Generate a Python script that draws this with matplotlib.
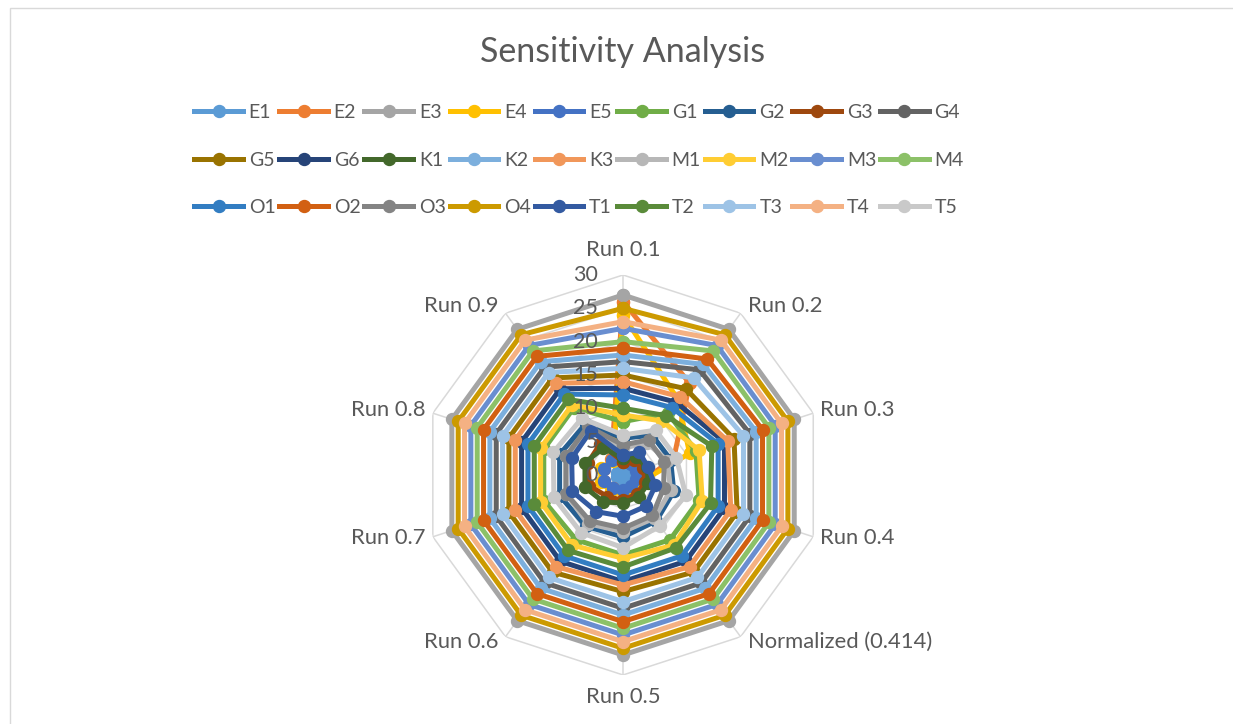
import numpy as np
import matplotlib
matplotlib.use('Agg')
import matplotlib.pyplot as plt
from matplotlib.patches import Rectangle

plt.rcParams['font.family'] = ['Lato', 'DejaVu Sans']

axis_labels = ['Run 0.1', 'Run 0.2', 'Run 0.3', 'Run 0.4', 'Normalized (0.414)',
               'Run 0.5', 'Run 0.6', 'Run 0.7', 'Run 0.8', 'Run 0.9']
r_ticks = [0, 5, 10, 15, 20, 25, 30]

# values per axis, same order as axis_labels
E1 = [1, 0.8, 0.8, 1, 1, 1, 1, 1, 1, 1]
E2 = [26, 17, 8, 3, 2.5, 2.5, 2.5, 3, 3, 3]
E3 = [27, 27, 27, 27, 27, 27, 27, 27, 27, 27]
E4 = [24, 14, 10.5, 3, 2.5, 2.5, 3, 3.5, 3.5, 2.5]
E5 = [2.5, 2, 2, 2, 2, 2.2, 2.5, 3, 3, 2.8]
G1 = [8, 11.5, 11.5, 12, 12, 12, 12, 12.5, 12.5, 12.5]
G2 = [5.5, 7.4, 7.5, 8, 8.5, 9.3, 9.5, 10, 10, 9.5]
G3 = [2, 2.8, 3.2, 3.5, 3.5, 3.8, 4, 5.3, 5.6, 5.8]
G4 = [17, 19.5, 20, 20, 20, 20, 20, 20, 20, 20]
G5 = [15, 16, 17.5, 18, 18, 17.5, 18, 18, 18, 18]
G6 = [13, 13.5, 16, 16, 16, 16, 16, 16, 16, 16]
K1 = [2.5, 3.3, 3.8, 4, 4, 4.2, 5, 6, 6, 5]
K2 = [18, 20.5, 21, 21, 21, 21, 21, 21, 21, 21]
K3 = [14, 14.5, 16.5, 17, 17, 16.5, 17, 17, 17, 17]
M1 = [4, 6, 7, 7.5, 8, 8.5, 9, 9, 9, 8.5]
M2 = [9, 10, 12, 12.5, 13, 12.5, 13, 13, 13, 13]
M3 = [22, 24, 24, 24, 24, 24, 24, 24, 24, 24]
M4 = [20, 23, 23, 23, 23, 23, 23, 23, 23, 23]
O1 = [12, 12.5, 15, 15, 15, 15, 15, 15, 15, 15]
O2 = [19, 21.5, 22, 22, 22, 22, 22, 22, 22, 22]
O3 = [4.5, 6.5, 6.5, 6.4, 7.5, 8, 8.5, 9, 9, 9]
O4 = [25, 26, 26, 26, 26, 26, 26, 26, 26, 26]
T1 = [3, 4.2, 3.9, 5.1, 5.8, 6.2, 6.8, 8, 8.1, 8.2]
T2 = [10, 11, 14, 13.8, 13.5, 13.8, 14, 14, 14, 14]
T3 = [16, 18, 19, 19, 19, 19, 19, 19, 19, 19]
T4 = [23, 25, 25, 25, 25, 25, 25, 25, 25, 25]
T5 = [6, 8.3, 8.4, 9.9, 9.4, 10.9, 10.7, 10.9, 11, 10.5]

names = ['E1', 'E2', 'E3', 'E4', 'E5', 'G1', 'G2', 'G3', 'G4', 'G5', 'G6', 'K1', 'K2', 'K3',
         'M1', 'M2', 'M3', 'M4', 'O1', 'O2', 'O3', 'O4', 'T1', 'T2', 'T3', 'T4', 'T5']
series = [E1, E2, E3, E4, E5, G1, G2, G3, G4, G5, G6, K1, K2, K3,
          M1, M2, M3, M4, O1, O2, O3, O4, T1, T2, T3, T4, T5]
colors = ['#5B9BD5', '#ED7D31', '#A5A5A5', '#FFC000', '#4472C4', '#70AD47', '#255E91',
          '#9E480E', '#636363', '#997300', '#264478', '#43682B', '#7CAFDD', '#F1975A',
          '#B7B7B7', '#FFCD33', '#698ED0', '#8CC168', '#327DC2', '#D26012', '#848484',
          '#CC9A00', '#335AA1', '#5A8B3A', '#9DC3E6', '#F4B183', '#C9C9C9']

text_col = '#595959'
grid_col = '#D9D9D9'

fig = plt.figure(figsize=(12.33, 7.24), dpi=100)
fig.patches.append(Rectangle((10 / 1233, -0.01), 1.2, 1 - 8 / 724 + 0.01,
                             transform=fig.transFigure, fill=False,
                             edgecolor=grid_col, lw=1))

ax = fig.add_axes([0.3431, 0.0677, 0.3244, 0.5525], projection='polar')
ax.set_theta_offset(np.pi / 2)
ax.set_theta_direction(-1)
ax.set_ylim(0, 30)
ax.grid(False)
ax.set_xticks([])
ax.set_yticks([])
ax.spines['polar'].set_visible(False)
ax.patch.set_alpha(0)

n = len(axis_labels)
theta = np.linspace(0, 2 * np.pi, n, endpoint=False)
closed = np.append(theta, theta[0])

# polygon grid + spokes
for r in r_ticks[1:]:
    ax.plot(closed, [r] * (n + 1), color=grid_col, lw=1.1, zorder=1)
for t in theta:
    ax.plot([t, t], [0, 30], color=grid_col, lw=1.1, zorder=1)

for name, vals, col in zip(names, series, colors):
    ax.plot(closed, vals + vals[:1], color=col, lw=3.6, marker='o', ms=8.6,
            solid_joinstyle='round', label=name, zorder=2, clip_on=False)

for t in r_ticks:
    ax.annotate(str(t), xy=(0, t), xytext=(-25, 0), textcoords='offset pixels',
                ha='right', va='center', fontsize=15.5, color=text_col, zorder=5,
                annotation_clip=False)

offsets = [(0, 25, 'center'), (7, 7, 'left'), (7, 3, 'left'), (7, -1, 'left'),
           (7, -5, 'left'), (0, -22, 'center'), (-7, -5, 'right'), (-7, -1, 'right'),
           (-7, 3, 'right'), (-7, 7, 'right')]
for t, lab, (dx, dy, ha) in zip(theta, axis_labels, offsets):
    ax.annotate(lab, xy=(t, 30), xytext=(dx, dy), textcoords='offset pixels',
                ha=ha, va='center', fontsize=15.8, color=text_col,
                annotation_clip=False)

fig.text(623 / 1233, 1 - 52 / 724, 'Sensitivity Analysis', ha='center', va='center',
         fontsize=24.5, color=text_col)

handles, labels = ax.get_legend_handles_labels()
order = [r * 9 + c for c in range(9) for r in range(3)]
fig.legend([handles[i] for i in order], [labels[i] for i in order], ncol=9,
           loc='center', bbox_to_anchor=(579 / 1233, 1 - 160 / 724), frameon=False,
           handlelength=2.5, handletextpad=0.3, columnspacing=0.2, labelspacing=1.58,
           fontsize=14, labelcolor=text_col, borderpad=0)

fig.savefig('out.png', dpi=100, facecolor='white')
